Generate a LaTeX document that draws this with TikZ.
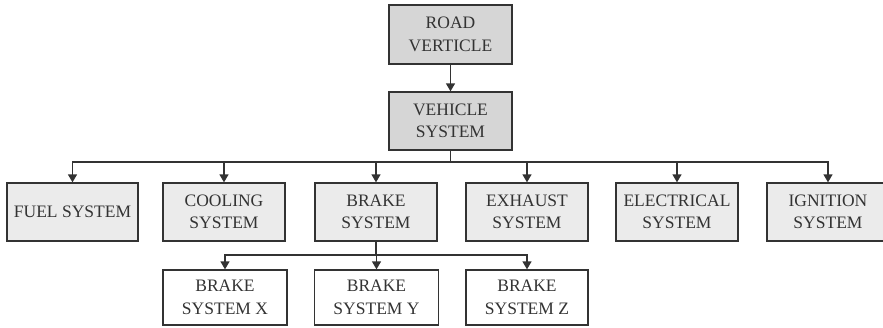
\documentclass[tikz,border=0pt]{standalone}
\usepackage{fontspec}
\setmainfont{Liberation Serif}
\usepackage{tikz}
\usetikzlibrary{arrows.meta,positioning}
\definecolor{vehgray}{HTML}{D6D6D6}
\definecolor{sysgray}{HTML}{EBEBEB}
\definecolor{lineink}{HTML}{333333}

\tikzset{
  sysbox/.style={draw=lineink, line width=1.3pt, text=lineink, align=center,
    inner sep=0pt, minimum width=122pt, minimum height=58pt,
    font=\fontsize{17.5}{22.5}\selectfont},
  topbox/.style={sysbox, fill=vehgray, minimum width=123pt},
  midbox/.style={sysbox, fill=sysgray},
  subbox/.style={sysbox, fill=white, minimum width=124pt, minimum height=55pt},
  feed/.style={draw=lineink, line width=1.3pt, -{Triangle[width=9pt,length=8pt]}}
}

\begin{document}
\begin{tikzpicture}[x=1pt, y=-1pt]
  \useasboundingbox (0,0) rectangle (883,327);

  % top of the tree
  \node[topbox, minimum height=59pt] (road) at (450.5,34.5) {ROAD\\VERTICLE};
  \node[topbox] (vehicle) at (450.5,121) {VEHICLE\\SYSTEM};

  % systems
  \node[midbox, minimum width=131pt] (fuel) at (72.5,212) {FUEL SYSTEM};
  \node[midbox] (cooling) at (224,212) {COOLING\\SYSTEM};
  \node[midbox] (brake) at (376,212) {BRAKE\\SYSTEM};
  \node[midbox] (exhaust) at (527,212) {EXHAUST\\SYSTEM};
  \node[midbox] (electrical) at (677,212) {ELECTRICAL\\SYSTEM};
  \node[midbox] (ignition) at (828,212) {IGNITION\\SYSTEM};

  % brake variants
  \node[subbox] (brakex) at (225,297.5) {BRAKE\\SYSTEM X};
  \node[subbox] (brakey) at (376.5,297.5) {BRAKE\\SYSTEM Y};
  \node[subbox, minimum width=122pt] (brakez) at (527,297.5) {BRAKE\\SYSTEM Z};

  \coordinate (bus) at (450.5,162);
  \coordinate (subbus) at (376,255);

  \draw[feed] (road) -- (vehicle);
  \draw[draw=lineink, line width=1.3pt] (vehicle.south) -- (bus);
  \foreach \n in {fuel,cooling,brake,exhaust,electrical,ignition}
    \draw[feed] (bus) -| (\n.north);

  \draw[draw=lineink, line width=1.3pt] (brake.south) -- (subbus);
  \foreach \n in {brakex,brakey,brakez}
    \draw[feed] (subbus) -| (\n.north);
\end{tikzpicture}
\end{document}
